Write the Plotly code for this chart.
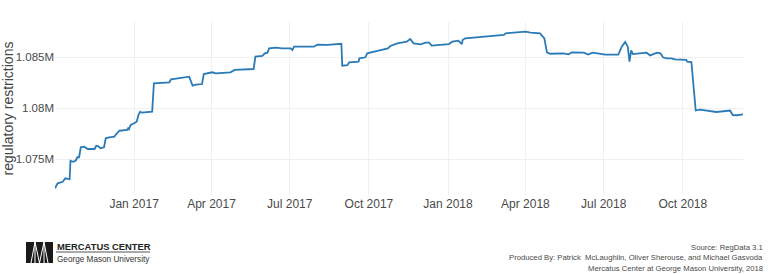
import plotly.graph_objects as go

# ---- data ----
dates = [
    "2016-10-01", "2016-10-04", "2016-10-10", "2016-10-13", "2016-10-16", "2016-10-18",
    "2016-10-19", "2016-10-22", "2016-10-25", "2016-10-27", "2016-10-29", "2016-10-31",
    "2016-11-04", "2016-11-08", "2016-11-16", "2016-11-18", "2016-11-20", "2016-11-23",
    "2016-11-27", "2016-11-29", "2016-12-03", "2016-12-09", "2016-12-11", "2016-12-15",
    "2016-12-24", "2016-12-25", "2016-12-26", "2016-12-28", "2017-01-01", "2017-01-04",
    "2017-01-06", "2017-01-08", "2017-01-10", "2017-01-22", "2017-01-24", "2017-02-01",
    "2017-02-11", "2017-02-13", "2017-02-22", "2017-03-06", "2017-03-10", "2017-03-14",
    "2017-03-21", "2017-03-23", "2017-04-02", "2017-04-06", "2017-04-23", "2017-04-28",
    "2017-05-20", "2017-05-22", "2017-05-30", "2017-06-02", "2017-06-05", "2017-06-07",
    "2017-06-15", "2017-06-22", "2017-07-02", "2017-07-04", "2017-07-06", "2017-07-29",
    "2017-08-02", "2017-08-14", "2017-08-30", "2017-08-31", "2017-09-06", "2017-09-08",
    "2017-09-19", "2017-09-20", "2017-09-27", "2017-09-29", "2017-10-11", "2017-10-23",
    "2017-10-26", "2017-11-03", "2017-11-14", "2017-11-18", "2017-11-22", "2017-11-30",
    "2017-12-06", "2017-12-10", "2017-12-13", "2017-12-21", "2018-01-02", "2018-01-06",
    "2018-01-13", "2018-01-17", "2018-01-18", "2018-01-21", "2018-02-02", "2018-02-11",
    "2018-03-07", "2018-03-09", "2018-03-20", "2018-04-01", "2018-04-07", "2018-04-18",
    "2018-04-23", "2018-04-26", "2018-04-30", "2018-05-15", "2018-05-21", "2018-05-25",
    "2018-06-08", "2018-06-13", "2018-06-18", "2018-07-03", "2018-07-18", "2018-07-22",
    "2018-07-26", "2018-07-29", "2018-07-31", "2018-08-02", "2018-08-04", "2018-08-20",
    "2018-08-24", "2018-09-01", "2018-09-05", "2018-09-08", "2018-09-12", "2018-09-18",
    "2018-09-22", "2018-10-05", "2018-10-06", "2018-10-11", "2018-10-16", "2018-10-21",
    "2018-11-09", "2018-11-25", "2018-11-28", "2018-12-03", "2018-12-10",
]
restrictions = [
    1072160, 1072650, 1072800, 1073140, 1073070, 1073040,
    1074860, 1074760, 1074860, 1075200, 1075200, 1076180,
    1076240, 1076010, 1076010, 1076330, 1076300, 1076080,
    1076180, 1077060, 1077160, 1077220, 1077450, 1077800,
    1077870, 1078040, 1077940, 1078360, 1078530, 1078690,
    1079340, 1079670, 1079570, 1079670, 1082450, 1082510,
    1082550, 1082840, 1082940, 1083100, 1082220, 1082310,
    1082380, 1083360, 1083530, 1083430, 1083530, 1083760,
    1083850, 1085060, 1085130, 1085390, 1085450, 1085880,
    1085940, 1085880, 1085880, 1085720, 1086040, 1086040,
    1086240, 1086210, 1086330, 1084180, 1084220, 1084510,
    1084570, 1084900, 1085000, 1085390, 1085620, 1085880,
    1086110, 1086370, 1086530, 1086790, 1086370, 1086270,
    1086430, 1086430, 1086140, 1086210, 1086300, 1086530,
    1086630, 1086300, 1086700, 1086860, 1086960, 1087020,
    1087190, 1087350, 1087410, 1087510, 1087410, 1087350,
    1086860, 1085490, 1085350, 1085390, 1085290, 1085490,
    1085450, 1085270, 1085450, 1085270, 1085270, 1086040,
    1086500, 1086040, 1084570, 1085670, 1085320, 1085450,
    1085180, 1085450, 1085390, 1085000, 1084900, 1084900,
    1084800, 1084740, 1084570, 1084540, 1079780, 1079860,
    1079640, 1079780, 1079340, 1079320, 1079410,
]
x_tick_vals = ["2017-01-01", "2017-04-01", "2017-07-01", "2017-10-01",
               "2018-01-01", "2018-04-01", "2018-07-01", "2018-10-01"]
x_tick_text = ["Jan 2017", "Apr 2017", "Jul 2017", "Oct 2017",
               "Jan 2018", "Apr 2018", "Jul 2018", "Oct 2018"]
y_tick_vals = [1075000, 1080000, 1085000]
y_tick_text = ["1.075M", "1.08M", "1.085M"]
y_title = "regulatory restrictions"
source_lines = ["Source: RegData 3.1",
                "Produced By: Patrick  McLaughlin, Oliver Sherouse, and Michael Gasvoda",
                "Mercatus Center at George Mason University, 2018"]

# ---- layout geometry (pixels) ----
W, H = 768, 274
L, R, T, B = 55, 25, 22, 79
pw, ph = W - L - R, H - T - B

def px(xp):
    return (xp - L) / pw

def py(yp):
    return (H - B - yp) / ph

FONT = "Liberation Sans, Arial, sans-serif"

fig = go.Figure()
fig.add_trace(go.Scatter(
    x=dates, y=restrictions, mode="lines",
    line=dict(color="#2a7ab8", width=1.8),
    hoverinfo="skip", showlegend=False,
))

shapes = []
# logo block
shapes.append(dict(type="rect", xref="paper", yref="paper",
                   x0=px(26), x1=px(53), y0=py(263), y1=py(242),
                   fillcolor="#1a1a1a", line=dict(width=0)))
for (xa, ya, xb, yb) in [(31, 263, 35, 242), (35, 242, 39.5, 263), (39.5, 263, 44, 242),
                         (44, 242, 48, 263), (35, 242, 35, 263), (44, 242, 44, 263)]:
    shapes.append(dict(type="line", xref="paper", yref="paper",
                       x0=px(xa), y0=py(ya), x1=px(xb), y1=py(yb),
                       line=dict(color="white", width=1)))
# underline under MERCATUS CENTER
shapes.append(dict(type="line", xref="paper", yref="paper",
                   x0=px(56), x1=px(150), y0=py(252), y1=py(252),
                   line=dict(color="#555555", width=1)))

annotations = [
    dict(text="<b>MERCATUS CENTER</b>", xref="paper", yref="paper", x=px(55), y=py(246.5),
         xanchor="left", yanchor="middle", showarrow=False,
         font=dict(family=FONT, size=9.4, color="#222222")),
    dict(text="George Mason University", xref="paper", yref="paper", x=px(55), y=py(259),
         xanchor="left", yanchor="middle", showarrow=False,
         font=dict(family=FONT, size=8.2, color="#333333")),
]
for i, s in enumerate(source_lines):
    annotations.append(dict(text=s, xref="paper", yref="paper", x=px(765),
                            y=py(247.5 + 10.3 * i), xanchor="right", yanchor="middle",
                            showarrow=False,
                            font=dict(family=FONT, size=7.7, color="#4a4a4a")))

fig.update_layout(
    width=W, height=H,
    margin=dict(l=L, r=R, t=T, b=B, autoexpand=False),
    paper_bgcolor="white", plot_bgcolor="white",
    font=dict(family=FONT, color="#444444"),
    xaxis=dict(range=[dates[0], dates[-1]], tickvals=x_tick_vals, ticktext=x_tick_text,
               showgrid=True, gridcolor="#f0f0f0", gridwidth=1, zeroline=False,
               showline=False, ticks="", tickfont=dict(size=12, color="#4a4a4a")),
    yaxis=dict(range=[1071500, 1088460], tickvals=y_tick_vals, ticktext=y_tick_text,
               showgrid=True, gridcolor="#f0f0f0", gridwidth=1, zeroline=False,
               showline=False, ticks="", tickfont=dict(size=11.5, color="#4a4a4a"),
               title=dict(text=y_title, font=dict(size=14, color="#444444"), standoff=6)),
    shapes=shapes, annotations=annotations,
)

fig.write_html("out.html")
